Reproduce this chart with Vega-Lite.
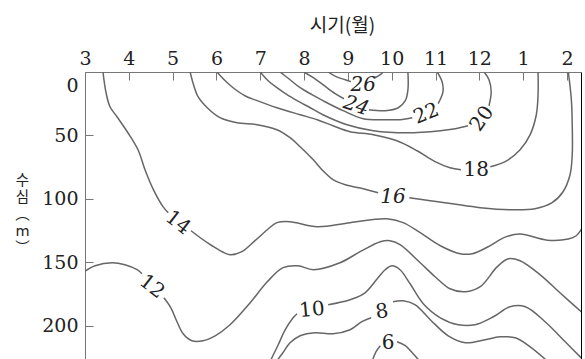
{
"$schema":"https://vega.github.io/schema/vega-lite/v6.json",
"width":496,"height":287,"autosize":"none",
"padding":{"left":85,"top":72,"right":4,"bottom":0},
"background":"white",
"config":{"view":{"stroke":null},"axis":{"grid":false}},
"datasets":{
"lines":[
{"seg":"14a","i":0,"month":3.41,"depth":0},{"seg":"14a","i":1,"month":3.48,"depth":16.3},{"seg":"14a","i":2,"month":3.57,"depth":27.4},{"seg":"14a","i":3,"month":3.73,"depth":35.3},{"seg":"14a","i":4,"month":3.98,"depth":47.9},{"seg":"14a","i":5,"month":4.21,"depth":61.3},{"seg":"14a","i":6,"month":4.37,"depth":77.1},{"seg":"14a","i":7,"month":4.55,"depth":92},{"seg":"14a","i":8,"month":4.78,"depth":106.2},{"seg":"14a","i":9,"month":4.9,"depth":111},
{"seg":"14b","i":0,"month":5.42,"depth":125.2},{"seg":"14b","i":1,"month":5.63,"depth":130.7},{"seg":"14b","i":2,"month":5.9,"depth":137},{"seg":"14b","i":3,"month":6.13,"depth":141.7},{"seg":"14b","i":4,"month":6.31,"depth":144.1},{"seg":"14b","i":5,"month":6.58,"depth":141.7},{"seg":"14b","i":6,"month":6.88,"depth":133},{"seg":"14b","i":7,"month":7.16,"depth":124.4},{"seg":"14b","i":8,"month":7.38,"depth":118.8},{"seg":"14b","i":9,"month":7.68,"depth":118},{"seg":"14b","i":10,"month":8.3,"depth":122},{"seg":"14b","i":11,"month":9.05,"depth":118.8},{"seg":"14b","i":12,"month":9.89,"depth":115.7},{"seg":"14b","i":13,"month":10.26,"depth":118.8},{"seg":"14b","i":14,"month":10.65,"depth":126.7},{"seg":"14b","i":15,"month":11.11,"depth":137},{"seg":"14b","i":16,"month":11.56,"depth":143.3},{"seg":"14b","i":17,"month":11.84,"depth":143.3},{"seg":"14b","i":18,"month":12.2,"depth":137.8},{"seg":"14b","i":19,"month":12.59,"depth":130.2},{"seg":"14b","i":20,"month":12.93,"depth":127.8},{"seg":"14b","i":21,"month":13.55,"depth":132.6},{"seg":"14b","i":22,"month":14.03,"depth":131.7},{"seg":"14b","i":23,"month":14.21,"depth":129.1},{"seg":"14b","i":24,"month":14.35,"depth":122.8},
{"seg":"12a","i":0,"month":2.98,"depth":157.5},{"seg":"12a","i":1,"month":3.23,"depth":152.8},{"seg":"12a","i":2,"month":3.62,"depth":150.4},{"seg":"12a","i":3,"month":3.91,"depth":152},{"seg":"12a","i":4,"month":4.19,"depth":155.9},{"seg":"12a","i":5,"month":4.3,"depth":159.1},
{"seg":"12b","i":0,"month":4.8,"depth":178},{"seg":"12b","i":1,"month":4.96,"depth":185.9},{"seg":"12b","i":2,"month":5.1,"depth":196.9},{"seg":"12b","i":3,"month":5.24,"depth":206.4},{"seg":"12b","i":4,"month":5.44,"depth":211.9},{"seg":"12b","i":5,"month":5.69,"depth":211.9},{"seg":"12b","i":6,"month":5.97,"depth":208},{"seg":"12b","i":7,"month":6.31,"depth":199.3},{"seg":"12b","i":8,"month":6.77,"depth":181.9},{"seg":"12b","i":9,"month":7.16,"depth":165.4},{"seg":"12b","i":10,"month":7.52,"depth":154.3},{"seg":"12b","i":11,"month":7.86,"depth":152.8},{"seg":"12b","i":12,"month":8.21,"depth":155.9},{"seg":"12b","i":13,"month":8.82,"depth":150.4},{"seg":"12b","i":14,"month":9.28,"depth":141.7},{"seg":"12b","i":15,"month":9.74,"depth":133.8},{"seg":"12b","i":16,"month":9.96,"depth":133},{"seg":"12b","i":17,"month":10.19,"depth":136.2},{"seg":"12b","i":18,"month":10.65,"depth":150.4},{"seg":"12b","i":19,"month":10.99,"depth":161.4},{"seg":"12b","i":20,"month":11.33,"depth":170.9},{"seg":"12b","i":21,"month":11.68,"depth":173.3},{"seg":"12b","i":22,"month":12.02,"depth":169.3},{"seg":"12b","i":23,"month":12.41,"depth":153.5},{"seg":"12b","i":24,"month":12.66,"depth":147.2},{"seg":"12b","i":25,"month":12.93,"depth":148.8},{"seg":"12b","i":26,"month":13.39,"depth":159.9},{"seg":"12b","i":27,"month":13.84,"depth":174.1},{"seg":"12b","i":28,"month":14.35,"depth":189.8},
{"seg":"10a","i":0,"month":7.22,"depth":228.5},{"seg":"10a","i":1,"month":7.41,"depth":215.1},{"seg":"10a","i":2,"month":7.57,"depth":203.2},{"seg":"10a","i":3,"month":7.75,"depth":193.8},{"seg":"10a","i":4,"month":7.84,"depth":190.6},
{"seg":"10b","i":0,"month":8.55,"depth":183.5},{"seg":"10b","i":1,"month":9.05,"depth":179.6},{"seg":"10b","i":2,"month":9.39,"depth":174.1},{"seg":"10b","i":3,"month":9.67,"depth":163},{"seg":"10b","i":4,"month":9.85,"depth":155.9},{"seg":"10b","i":5,"month":10.01,"depth":152.8},{"seg":"10b","i":6,"month":10.19,"depth":155.9},{"seg":"10b","i":7,"month":10.42,"depth":167},{"seg":"10b","i":8,"month":10.72,"depth":182.7},{"seg":"10b","i":9,"month":11.11,"depth":193.8},{"seg":"10b","i":10,"month":11.52,"depth":199.3},{"seg":"10b","i":11,"month":11.9,"depth":199.3},{"seg":"10b","i":12,"month":12.32,"depth":193},{"seg":"10b","i":13,"month":12.7,"depth":185.1},{"seg":"10b","i":14,"month":13.05,"depth":185.1},{"seg":"10b","i":15,"month":13.5,"depth":196.9},{"seg":"10b","i":16,"month":13.96,"depth":212.7},{"seg":"10b","i":17,"month":14.39,"depth":227.7},
{"seg":"8a","i":0,"month":7.36,"depth":228.5},{"seg":"8a","i":1,"month":7.5,"depth":222.2},{"seg":"8a","i":2,"month":7.68,"depth":213.5},{"seg":"8a","i":3,"month":7.91,"depth":208},{"seg":"8a","i":4,"month":8.25,"depth":205.6},{"seg":"8a","i":5,"month":8.66,"depth":206.4},{"seg":"8a","i":6,"month":9.05,"depth":203.2},{"seg":"8a","i":7,"month":9.32,"depth":196.9},{"seg":"8a","i":8,"month":9.53,"depth":193.8},
{"seg":"8b","i":0,"month":10.03,"depth":181.1},{"seg":"8b","i":1,"month":10.26,"depth":180.4},{"seg":"8b","i":2,"month":10.53,"depth":183.5},{"seg":"8b","i":3,"month":10.88,"depth":195.3},{"seg":"8b","i":4,"month":11.29,"depth":208},{"seg":"8b","i":5,"month":11.68,"depth":213.5},{"seg":"8b","i":6,"month":12.13,"depth":211.1},{"seg":"8b","i":7,"month":12.47,"depth":208.8},{"seg":"8b","i":8,"month":12.82,"depth":209.6},{"seg":"8b","i":9,"month":13.16,"depth":216.7},{"seg":"8b","i":10,"month":13.57,"depth":228.5},
{"seg":"6a","i":0,"month":9.55,"depth":228.5},{"seg":"6a","i":1,"month":9.64,"depth":220.6},{"seg":"6a","i":2,"month":9.74,"depth":215.8},
{"seg":"6b","i":0,"month":10.12,"depth":212.7},{"seg":"6b","i":1,"month":10.31,"depth":215.8},{"seg":"6b","i":2,"month":10.49,"depth":222.2},{"seg":"6b","i":3,"month":10.65,"depth":228.5},
{"seg":"16a","i":0,"month":5.4,"depth":0},{"seg":"16a","i":1,"month":5.47,"depth":9.2},{"seg":"16a","i":2,"month":5.58,"depth":19.5},{"seg":"16a","i":3,"month":5.79,"depth":28.2},{"seg":"16a","i":4,"month":6.08,"depth":36},{"seg":"16a","i":5,"month":6.47,"depth":40},{"seg":"16a","i":6,"month":6.93,"depth":41.6},{"seg":"16a","i":7,"month":7.38,"depth":45.5},{"seg":"16a","i":8,"month":7.68,"depth":51.8},{"seg":"16a","i":9,"month":7.91,"depth":58.9},{"seg":"16a","i":10,"month":8.21,"depth":69.2},{"seg":"16a","i":11,"month":8.43,"depth":77.8},{"seg":"16a","i":12,"month":8.66,"depth":84.9},{"seg":"16a","i":13,"month":8.94,"depth":88.9},{"seg":"16a","i":14,"month":9.35,"depth":92},{"seg":"16a","i":15,"month":9.69,"depth":95.2},
{"seg":"16b","i":0,"month":10.4,"depth":99.1},{"seg":"16b","i":1,"month":10.88,"depth":101.5},{"seg":"16b","i":2,"month":11.38,"depth":103.9},{"seg":"16b","i":3,"month":12.02,"depth":107},{"seg":"16b","i":4,"month":12.7,"depth":108.6},{"seg":"16b","i":5,"month":13.27,"depth":107.8},{"seg":"16b","i":6,"month":13.66,"depth":103},{"seg":"16b","i":7,"month":13.91,"depth":94.4},{"seg":"16b","i":8,"month":14.07,"depth":81},{"seg":"16b","i":9,"month":14.12,"depth":65.2},{"seg":"16b","i":10,"month":14.12,"depth":41.6},{"seg":"16b","i":11,"month":14.1,"depth":21.8},{"seg":"16b","i":12,"month":14.03,"depth":0},
{"seg":"18a","i":0,"month":6.01,"depth":0},{"seg":"18a","i":1,"month":6.2,"depth":6.9},{"seg":"18a","i":2,"month":6.38,"depth":12.4},{"seg":"18a","i":3,"month":6.65,"depth":18.7},{"seg":"18a","i":4,"month":6.93,"depth":22.6},{"seg":"18a","i":5,"month":7.38,"depth":28.2},{"seg":"18a","i":6,"month":7.91,"depth":33.7},{"seg":"18a","i":7,"month":8.3,"depth":37.6},{"seg":"18a","i":8,"month":8.66,"depth":42.4},{"seg":"18a","i":9,"month":9.05,"depth":47.1},{"seg":"18a","i":10,"month":9.58,"depth":49.4},{"seg":"18a","i":11,"month":10.12,"depth":54.2},{"seg":"18a","i":12,"month":10.58,"depth":62.1},{"seg":"18a","i":13,"month":10.99,"depth":70.7},{"seg":"18a","i":14,"month":11.33,"depth":75.5},{"seg":"18a","i":15,"month":11.58,"depth":77},
{"seg":"18b","i":0,"month":12.25,"depth":74.7},{"seg":"18b","i":1,"month":12.59,"depth":70.7},{"seg":"18b","i":2,"month":12.93,"depth":61.3},{"seg":"18b","i":3,"month":13.16,"depth":49.4},{"seg":"18b","i":4,"month":13.3,"depth":33.7},{"seg":"18b","i":5,"month":13.34,"depth":17.9},{"seg":"18b","i":6,"month":13.34,"depth":0},
{"seg":"20a","i":0,"month":7.0,"depth":0},{"seg":"20a","i":1,"month":7.18,"depth":6.9},{"seg":"20a","i":2,"month":7.38,"depth":12.4},{"seg":"20a","i":3,"month":7.61,"depth":17.9},{"seg":"20a","i":4,"month":7.84,"depth":22.6},{"seg":"20a","i":5,"month":8.14,"depth":28.2},{"seg":"20a","i":6,"month":8.43,"depth":33.7},{"seg":"20a","i":7,"month":8.98,"depth":41.6},{"seg":"20a","i":8,"month":9.58,"depth":46.3},{"seg":"20a","i":9,"month":10.35,"depth":47.9},{"seg":"20a","i":10,"month":11.11,"depth":46.3},{"seg":"20a","i":11,"month":11.45,"depth":44.7},{"seg":"20a","i":12,"month":11.74,"depth":42.4},
{"seg":"20b","i":0,"month":12.22,"depth":26.6},{"seg":"20b","i":1,"month":12.27,"depth":15.5},{"seg":"20b","i":2,"month":12.22,"depth":6.1},{"seg":"20b","i":3,"month":12.11,"depth":0},
{"seg":"22a","i":0,"month":7.45,"depth":0},{"seg":"22a","i":1,"month":7.68,"depth":6.1},{"seg":"22a","i":2,"month":7.91,"depth":12.4},{"seg":"22a","i":3,"month":8.18,"depth":17.9},{"seg":"22a","i":4,"month":8.43,"depth":22.6},{"seg":"22a","i":5,"month":8.89,"depth":30.5},{"seg":"22a","i":6,"month":9.35,"depth":36.8},{"seg":"22a","i":7,"month":9.85,"depth":37.6},{"seg":"22a","i":8,"month":10.19,"depth":37.6},{"seg":"22a","i":9,"month":10.47,"depth":36},
{"seg":"22b","i":0,"month":11.06,"depth":25},{"seg":"22b","i":1,"month":11.17,"depth":15.5},{"seg":"22b","i":2,"month":11.15,"depth":7.7},{"seg":"22b","i":3,"month":11.04,"depth":0},
{"seg":"24a","i":0,"month":8.0,"depth":0},{"seg":"24a","i":1,"month":8.21,"depth":4.5},{"seg":"24a","i":2,"month":8.43,"depth":10},{"seg":"24a","i":3,"month":8.71,"depth":17.1},{"seg":"24a","i":4,"month":8.91,"depth":21.1},
{"seg":"24b","i":0,"month":9.48,"depth":29.7},{"seg":"24b","i":1,"month":9.85,"depth":30.5},{"seg":"24b","i":2,"month":10.15,"depth":28.2},{"seg":"24b","i":3,"month":10.31,"depth":22.6},{"seg":"24b","i":4,"month":10.37,"depth":14},{"seg":"24b","i":5,"month":10.37,"depth":0},
{"seg":"26a","i":0,"month":8.55,"depth":0},{"seg":"26a","i":1,"month":8.73,"depth":3.7},{"seg":"26a","i":2,"month":8.94,"depth":6.1},{"seg":"26a","i":3,"month":9.07,"depth":7.6},
{"seg":"26b","i":0,"month":9.62,"depth":4.5},{"seg":"26b","i":1,"month":9.74,"depth":2.1},{"seg":"26b","i":2,"month":9.8,"depth":0}
],
"labels":[
{"level":26,"month":9.35,"depth":10},{"level":24,"month":9.19,"depth":26.6},{"level":22,"month":10.79,"depth":32.9},{"level":20,"month":12.06,"depth":36.8},{"level":18,"month":11.93,"depth":77.1},{"level":16,"month":10.03,"depth":98.3},{"level":14,"month":5.12,"depth":118.8},{"level":12,"month":4.53,"depth":169.3},{"level":10,"month":8.18,"depth":187.5},{"level":8,"month":9.78,"depth":189},{"level":6,"month":9.92,"depth":213.5}
]},
"resolve":{"axis":{"y":"independent"}},
"layer":[
{"data":{"name":"lines"},
 "mark":{"type":"line","interpolate":"catmull-rom","stroke":"#666666","strokeWidth":1.5,"clip":true},
 "encoding":{
  "x":{"field":"month","type":"quantitative","scale":{"domain":[3,14.32],"nice":false,"zero":false},
   "axis":{"orient":"top","values":[3,4,5,6,7,8,9,10,11,12,13,14],"labelExpr":"datum.value > 12 ? datum.value - 12 : datum.value","labelFlush":false,"labelOverlap":false,"tickSize":-8,"tickColor":"#777777","domainColor":"#777777","labelPadding":12,"labelFont":"DejaVu Serif, serif","labelFontSize":19,"labelColor":"#222222","title":"시기(월)","titleFont":"Noto Sans CJK KR","titleFontSize":19,"titleFontWeight":"normal","titleColor":"#222222","titleX":257,"titleY":-47,"titleAlign":"center","titleBaseline":"middle","titleAnchor":null}},
  "y":{"field":"depth","type":"quantitative","scale":{"domain":[0,226.3],"reverse":true,"nice":false,"zero":false},
   "axis":{"orient":"left","values":[0,50,100,150,200],"labelFlush":1,"labelFlushOffset":-4,"labelOverlap":false,"tickSize":-8,"tickColor":"#777777","domainColor":"#777777","labelPadding":15,"labelFont":"DejaVu Serif, serif","labelFontSize":19,"labelColor":"#222222","title":["수","심","︵","m","︶"],"titleAngle":0,"titleFont":"DejaVu Sans, Noto Sans CJK KR","titleFontSize":14.5,"titleFontWeight":"normal","titleColor":"#222222","titleLineHeight":17,"titleX":-63,"titleY":112,"titleAlign":"center","titleBaseline":"alphabetic","titleAnchor":null}},
  "detail":{"field":"seg","type":"nominal"},
  "order":{"field":"i","type":"quantitative"}
 }},
{"data":{"name":"labels"},
 "transform":[{"filter":{"field":"level","oneOf":[26,24,16]}}],
 "mark":{"type":"text","font":"DejaVu Serif, serif","fontSize":20,"fontStyle":"italic","color":"#222222","align":"center","baseline":"middle"},
 "encoding":{
  "x":{"field":"month","type":"quantitative"},
  "y":{"field":"depth","type":"quantitative","axis":null},
  "text":{"field":"level","type":"nominal"},
  "angle":{"field":"level","type":"quantitative","scale":{"domain":[6,8,10,12,14,16,18,20,22,24,26],"range":[0,-8,-5,38,38,0,0,-55,-22,18,0]},"legend":null}
 }},
{"data":{"name":"labels"},
 "transform":[{"filter":{"not":{"field":"level","oneOf":[26,24,16]}}}],
 "mark":{"type":"text","font":"DejaVu Serif, serif","fontSize":20,"color":"#222222","align":"center","baseline":"middle"},
 "encoding":{
  "x":{"field":"month","type":"quantitative"},
  "y":{"field":"depth","type":"quantitative","axis":{"orient":"right","labels":false,"ticks":false,"title":null,"domainColor":"#000000","domainWidth":1}},
  "text":{"field":"level","type":"nominal"},
  "angle":{"field":"level","type":"quantitative","scale":{"domain":[6,8,10,12,14,16,18,20,22,24,26],"range":[0,-8,-5,38,38,0,0,-55,-22,18,0]},"legend":null}
 }}
]
}
